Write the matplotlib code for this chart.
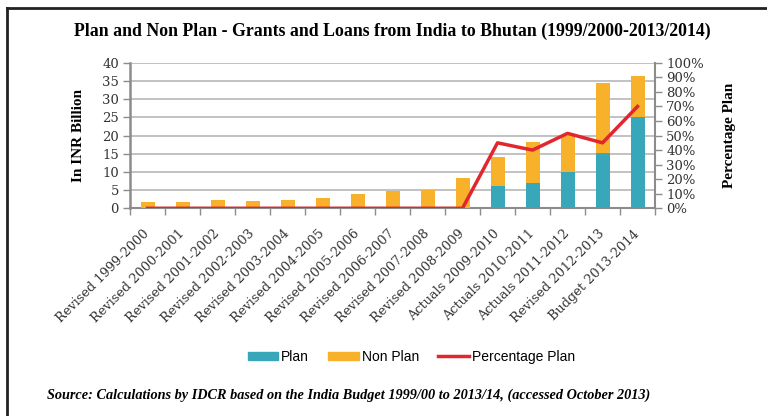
import numpy as np
import matplotlib.pyplot as plt
from matplotlib.ticker import PercentFormatter, FixedLocator
from matplotlib.lines import Line2D
from matplotlib.patches import Patch

years = ["Revised 1999-2000", "Revised 2000-2001", "Revised 2001-2002",
         "Revised 2002-2003", "Revised 2003-2004", "Revised 2004-2005",
         "Revised 2005-2006", "Revised 2006-2007", "Revised 2007-2008",
         "Revised 2008-2009", "Actuals 2009-2010", "Actuals 2010-2011",
         "Actuals 2011-2012", "Revised 2012-2013", "Budget 2013-2014"]
plan = [0, 0, 0, 0, 0, 0, 0, 0, 0, 0, 6.2, 7.0, 10.0, 15.2, 25.1]
non_plan = [1.8, 1.8, 2.4, 2.0, 2.4, 2.9, 4.0, 4.8, 5.0, 8.4, 7.9, 11.3, 10.0, 19.2, 11.2]
pct_plan = [0, 0, 0, 0, 0, 0, 0, 0, 0, 0, 0.45, 0.40, 0.515, 0.45, 0.70]

teal = "#39a7ba"
orange = "#f8b12b"
red = "#e2262e"
grey = "#8c8c8c"

fig = plt.figure(figsize=(7.67, 4.16), dpi=100)
ax = fig.add_axes([0.1695, 0.4993, 0.6845, 0.3497])
x = np.arange(len(years))

ax.bar(x, plan, width=0.4, color=teal, zorder=3)
ax.bar(x, non_plan, width=0.4, bottom=plan, color=orange, zorder=3)
ax.set_xlim(-0.5, len(years) - 0.5)
ax.set_ylim(0, 40)
ax.set_yticks(np.arange(0, 41, 5))
ax.yaxis.grid(True, color="#b8b8b8", linewidth=1.2, zorder=0)
ax.set_axisbelow(True)

# boundary ticks between categories, labels on the centres
ax.xaxis.set_major_locator(FixedLocator(np.arange(-0.5, len(years), 1)))
ax.xaxis.set_major_formatter(plt.NullFormatter())
ax.xaxis.set_minor_locator(FixedLocator(x))
ax.set_xticklabels(years, minor=True, rotation=45, ha="right", va="center",
                   rotation_mode="anchor", family="DejaVu Serif", fontsize=9.3,
                   color="#333333")
ax.tick_params(axis="x", which="minor", length=0, pad=17)
ax.tick_params(axis="x", which="major", length=5, color=grey, width=1)
ax.tick_params(axis="y", length=5, color=grey, width=1, pad=3,
               labelsize=9.5, labelcolor="#333333")
for lab in ax.get_yticklabels():
    lab.set_family("DejaVu Serif")

for side in ["top", "right"]:
    ax.spines[side].set_visible(False)
ax.spines["left"].set_color(grey)
ax.spines["left"].set_linewidth(1.8)
ax.spines["bottom"].set_color(grey)
ax.spines["bottom"].set_linewidth(1.5)
ax.set_ylabel("In INR Billion", family="Liberation Serif", fontweight="bold",
              fontsize=11, labelpad=12)

ax2 = ax.twinx()
ax2.plot(x, pct_plan, color=red, linewidth=2.5, zorder=5)
ax2.set_ylim(0, 1)
ax2.set_yticks(np.arange(0, 1.01, 0.1))
ax2.yaxis.set_major_formatter(PercentFormatter(1.0, decimals=0))
ax2.tick_params(axis="y", length=5, color=grey, width=1, pad=3,
                labelsize=9.5, labelcolor="#333333")
for lab in ax2.get_yticklabels():
    lab.set_family("DejaVu Serif")
for side in ["top", "left", "bottom"]:
    ax2.spines[side].set_visible(False)
ax2.spines["right"].set_color(grey)
ax2.spines["right"].set_linewidth(1.5)
ax2.set_ylabel("Percentage Plan", family="Liberation Serif", fontweight="bold",
               fontsize=11, labelpad=14)

fig.text(0.512, 0.925, "Plan and Non Plan - Grants and Loans from India to Bhutan (1999/2000-2013/2014)",
         ha="center", va="center", family="Liberation Serif", fontweight="bold", fontsize=12.8)

handles = [Patch(color=teal), Patch(color=orange), Line2D([0], [0], color=red, linewidth=2.5)]
fig.legend(handles, ["Plan", "Non Plan", "Percentage Plan"], loc="center",
           bbox_to_anchor=(0.536, 0.143), ncol=3, frameon=False,
           prop={"family": "Liberation Sans", "size": 10},
           handlelength=2.2, handleheight=0.5, handletextpad=0.2, columnspacing=1.4)

fig.text(0.061, 0.05, "Source: Calculations by IDCR based on the India Budget 1999/00 to 2013/14, (accessed October 2013)",
         ha="left", va="center", family="Liberation Serif", fontweight="bold",
         style="italic", fontsize=10.3)

# frame lines along the top and left edge
fig.add_artist(Line2D([0.009, 1.0], [0.981, 0.981], color="#222222", linewidth=2))
fig.add_artist(Line2D([0.009, 0.009], [0.0, 0.981], color="#222222", linewidth=2))

fig.savefig("out.png", dpi=100)
